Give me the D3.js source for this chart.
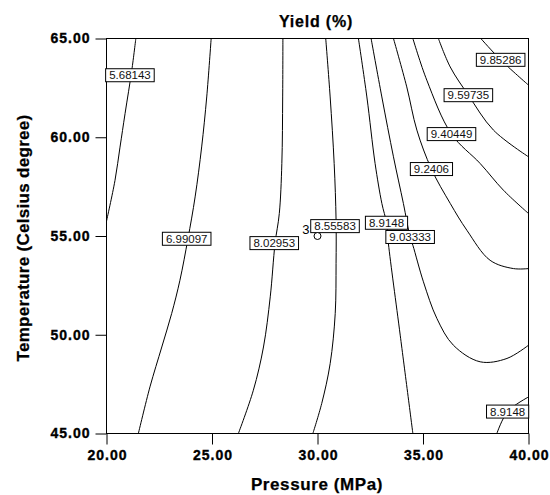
<!DOCTYPE html>
<html>
<head>
<meta charset="utf-8">
<script src="https://cdn.jsdelivr.net/npm/d3@7"></script>
<style>
  body { margin: 0; background: #fff; }
  svg { display: block; font-family: "Liberation Sans", Arial, sans-serif; }
</style>
</head>
<body>
<svg width="550" height="495"></svg>
<script>
'use strict';

// axis ticks
var pressureTicks = [20, 25, 30, 35, 40];
var temperatureTicks = [45, 50, 55, 60, 65];

// contour lines: [pressure, temperature]
var c568143 = [[21.39, 65], [21.20, 63.4], [20.88, 61.2], [20.64, 59.5], [20.40, 57.8], [20, 55.75]];
var c699097 = [[24.96, 65], [24.75, 62.04], [24.51, 59.51], [24.20, 56.98], [23.86, 54.86], [23.48, 52.76],
  [23.09, 51.08], [22.62, 49.38], [22.06, 47.36], [21.51, 45]];
var c802953 = [[28.36, 65], [28.35, 62.04], [28.31, 58.67], [28.19, 56.14], [27.99, 54.64], [27.76, 51.92],
  [27.44, 49.38], [26.96, 47.19], [26.25, 45]];
var c855583 = [[30.39, 65], [30.60, 62.04], [30.79, 58.67], [30.88, 55.8], [30.88, 53.61], [30.84, 51.08],
  [30.60, 48.54], [30.20, 46.52], [29.78, 45]];
var c89148a = [[31.94, 65], [32.34, 62.04], [32.73, 58.67], [33.05, 56.65], [33.27, 55.67], [33.36, 54.62],
  [33.92, 49.98], [34.52, 45]];
var c903333 = [[32.54, 65], [33.05, 62.04], [33.60, 59.01], [34.07, 56.65], [34.39, 54.95], [34.52, 54.53],
  [35.02, 52.68], [35.66, 50.82], [36.44, 49.47], [37.71, 48.63], [38.98, 48.80], [40, 49.47]];
var c92406 = [[33.60, 65], [34.23, 62.55], [34.71, 60.36], [35.40, 58.39], [36.29, 56.65], [37.08, 55.29],
  [38.18, 53.77], [39.29, 53.35], [40, 53.35]];
var c940449 = [[34.52, 65], [35.18, 62.89], [36.35, 60.16], [37.71, 58.67], [38.81, 57.32], [40, 56.14]];
var c959735 = [[35.73, 65], [36.29, 63.56], [37.15, 62.13], [38.34, 60.36], [40, 59.01]];
var c985286 = [[37.74, 65], [38.68, 63.92], [40, 62.64]];
var c89148b = [[38.50, 45], [39.01, 46.11], [40, 46.85]];

var contourLines = [c568143, c699097, c802953, c855583, c89148a, c903333, c92406, c940449, c959735, c985286, c89148b];

// contour labels: text and where it sits [pressure, temperature]
var labelTexts = ['5.68143', '6.99097', '8.02953', '8.55583', '8.9148', '9.03333', '9.2406', '9.40449', '9.59735', '9.85286', '8.9148'];
var labelPoints = [[21.11, 63.14], [23.80, 54.86], [27.95, 54.64], [30.83, 55.5], [33.27, 55.67], [34.39, 54.95],
  [35.40, 58.39], [36.35, 60.16], [37.15, 62.13], [38.68, 63.92], [39.01, 46.11]];

// design centre point and its count
var designPoints = [[30, 55]];
var designCounts = ['3'];

var svg = d3.select('svg');

var x = d3.scaleLinear().domain([20, 40]).range([106.5, 528.5]);
var y = d3.scaleLinear().domain([45, 65]).range([433.5, 38.5]);

svg.append('defs').append('clipPath').attr('id', 'plot')
  .append('rect')
  .attr('x', x(20)).attr('y', y(65))
  .attr('width', x(40) - x(20)).attr('height', y(45) - y(65));

// axes
var fmt = d3.format('.2f');
var xAxis = svg.append('g')
  .attr('transform', 'translate(0,' + y(45) + ')')
  .call(d3.axisBottom(x).tickValues(pressureTicks).tickFormat(fmt).tickSize(11).tickPadding(6));
var yAxis = svg.append('g')
  .attr('transform', 'translate(' + x(20) + ',0)')
  .call(d3.axisLeft(y).tickValues(temperatureTicks).tickFormat(fmt).tickSize(11).tickPadding(5));

[xAxis, yAxis].forEach(function (g) {
  g.select('.domain').remove();
  g.selectAll('line').attr('stroke', '#000');
  g.selectAll('text')
    .attr('fill', '#000')
    .attr('stroke', '#000')
    .attr('stroke-width', 0.35)
    .style('font-family', '"Liberation Sans", Arial, sans-serif')
    .style('font-size', '14px')
    .style('font-weight', 'bold')
    .style('letter-spacing', '1px');
});
xAxis.selectAll('text').attr('dx', '0.5px');

// frame
svg.append('rect')
  .attr('x', x(20)).attr('y', y(65))
  .attr('width', x(40) - x(20)).attr('height', y(45) - y(65))
  .attr('fill', 'none')
  .attr('stroke', '#000');

// contour lines
var line = d3.line()
  .x(function (d) { return x(d[0]); })
  .y(function (d) { return y(d[1]); })
  .curve(d3.curveCatmullRom.alpha(0.5));

svg.append('g')
  .attr('clip-path', 'url(#plot)')
  .selectAll('path')
  .data(contourLines)
  .enter()
  .append('path')
  .attr('d', line)
  .attr('fill', 'none')
  .attr('stroke', '#000')
  .attr('stroke-width', 1);

// contour labels
var labels = svg.append('g')
  .selectAll('g')
  .data(labelTexts)
  .enter()
  .append('g')
  .attr('transform', function (d, i) {
    return 'translate(' + x(labelPoints[i][0]) + ',' + y(labelPoints[i][1]) + ')';
  });

labels.append('rect');
labels.append('text')
  .attr('text-anchor', 'middle')
  .attr('dy', '0.36em')
  .attr('font-size', 11.5)
  .attr('fill', '#111')
  .text(function (d) { return d; });

labels.each(function () {
  var g = d3.select(this);
  var w = g.select('text').node().getComputedTextLength() + 7;
  g.select('rect')
    .attr('x', -w / 2).attr('y', -6.5)
    .attr('width', w).attr('height', 13)
    .attr('fill', '#fff')
    .attr('stroke', '#000');
});

// design point
svg.append('g')
  .selectAll('circle')
  .data(designPoints)
  .enter()
  .append('circle')
  .attr('cx', function (d) { return x(d[0]); })
  .attr('cy', function (d) { return y(d[1]); })
  .attr('r', 3.5)
  .attr('fill', '#fff')
  .attr('stroke', '#000');

svg.append('g')
  .selectAll('text')
  .data(designPoints)
  .enter()
  .append('text')
  .attr('x', function (d) { return x(d[0]) - 8; })
  .attr('y', function (d) { return y(d[1]) - 2; })
  .attr('text-anchor', 'end')
  .attr('font-size', 13)
  .attr('fill', '#000')
  .text(function (d, i) { return designCounts[i]; });

// titles
svg.append('text')
  .attr('x', 316).attr('y', 27)
  .attr('text-anchor', 'middle')
  .attr('font-size', 16)
  .attr('font-weight', 'bold')
  .attr('stroke', '#000')
  .attr('stroke-width', 0.25)
  .style('letter-spacing', '0.8px')
  .text('Yield (%)');

svg.append('text')
  .attr('x', 317).attr('y', 490)
  .attr('text-anchor', 'middle')
  .attr('font-size', 17)
  .attr('font-weight', 'bold')
  .attr('stroke', '#000')
  .attr('stroke-width', 0.25)
  .style('letter-spacing', '0.6px')
  .text('Pressure (MPa)');

svg.append('text')
  .attr('transform', 'translate(29,238) rotate(-90)')
  .attr('text-anchor', 'middle')
  .attr('font-size', 17)
  .attr('font-weight', 'bold')
  .attr('stroke', '#000')
  .attr('stroke-width', 0.25)
  .style('letter-spacing', '0.3px')
  .text('Temperature (Celsius degree)');
</script>
</body>
</html>
